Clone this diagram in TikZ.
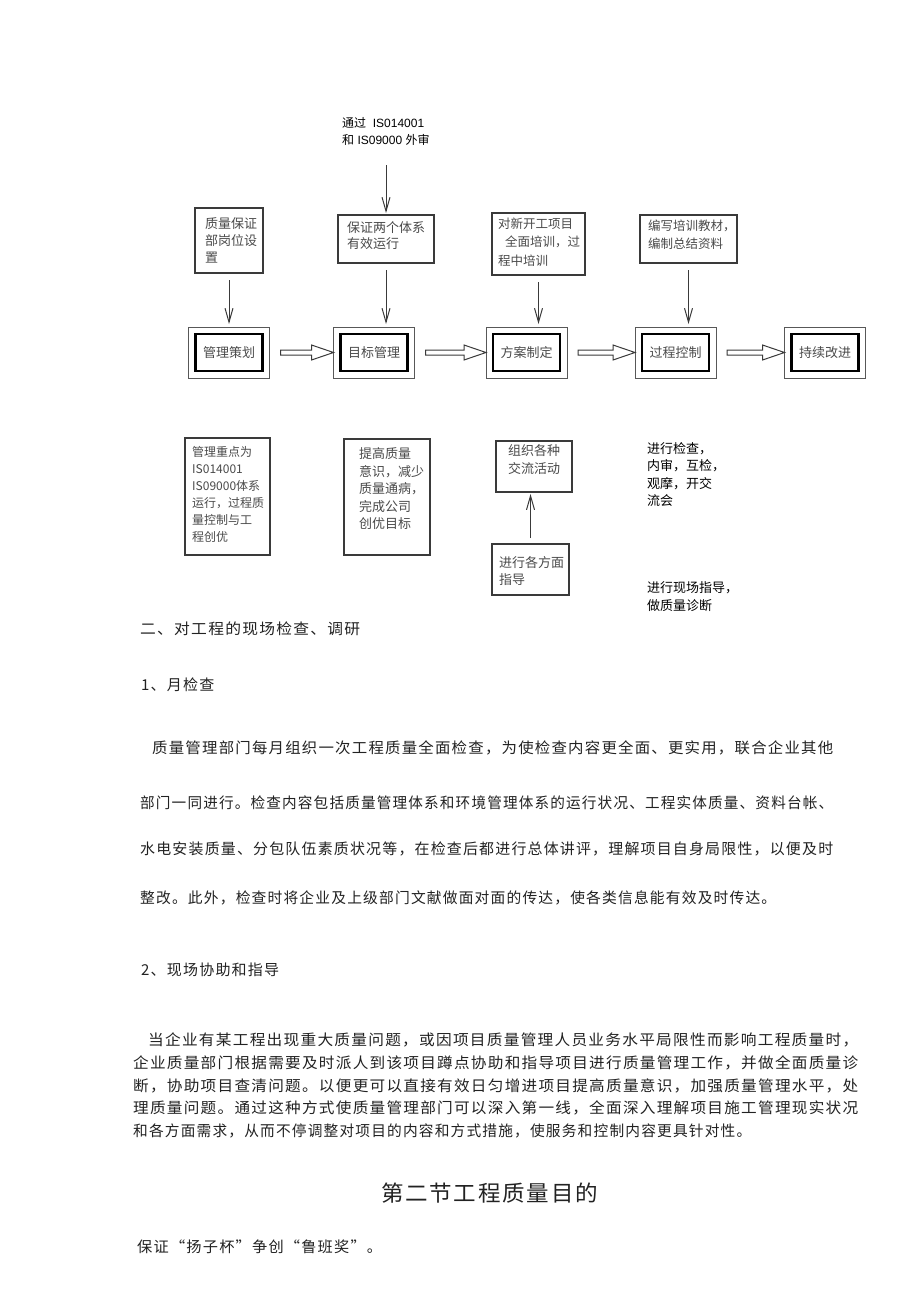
\documentclass[tikz,border=0pt]{standalone}
\usepackage{fontspec}
\usepackage{graphicx}
\setmainfont{Noto Sans CJK SC}
\newfontfamily\cjk{Noto Sans CJK SC}
\newfontfamily\cjkls[LetterSpace=8]{Noto Sans CJK SC}
\newfontfamily\latsans{Liberation Sans}
\usetikzlibrary{arrows.meta,calc}
\definecolor{boxline}{HTML}{3A3A3A}
\definecolor{boxtext}{HTML}{4A4A4A}
\definecolor{bodytext}{HTML}{222222}
\newcommand\fitw[2]{\resizebox{#1}{\height}{#2}}
\newcommand\harr[2]{\draw[harrow] ($(#1.east)+(11,-2.5)$) -- ($(#2.west)+(-22,-2.5)$) -- ($(#2.west)+(-22,-7.5)$) -- (#2.west) -- ($(#2.west)+(-22,7.5)$) -- ($(#2.west)+(-22,2.5)$) -- ($(#1.east)+(11,2.5)$) -- cycle;}
\newcommand\innerbox[1]{\draw[inbox] ($(#1.north west)+(7,7)$) rectangle ($(#1.south east)+(-7,-7)$);}
\tikzset{
  box/.style={draw=boxline, line width=1.1pt, inner sep=0pt, outer sep=0pt},
  mainbox/.style={draw=boxline!85, line width=1pt, minimum width=81pt, minimum height=51pt, inner sep=0pt, outer sep=0pt, font=\cjk\fontsize{13}{15}\selectfont, text=boxtext},
  inbox/.style={draw=black, line width=2.8pt},
  btext/.style={inner sep=0pt, anchor=north west, align=left, text=boxtext, font=\cjk\fontsize{13}{17}\selectfont},
  varrow/.style={draw=boxline, line width=1pt, -{Straight Barb[length=14pt,width=8pt]}},
  harrow/.style={draw=boxline, line width=1pt, fill=white, line join=miter},
  body/.style={inner sep=0pt, anchor=west, text=bodytext, font=\cjkls\fontsize{15}{17}\selectfont},
}
\begin{document}
\begin{tikzpicture}[x=1pt,y=-1pt]
\useasboundingbox (0,0) rectangle (920,1301);
\fill[white] (0,0) rectangle (920,1301);

% top label
\node[inner sep=0pt, anchor=north west, align=left, font=\latsans\fontsize{12}{17}\selectfont, text=black] (lbl) at (342,117) {{\cjk 通过}\ \ IS014001\\{\cjk 和} IS09000 {\cjk 外审}};

% top boxes
\node[box, minimum width=68pt, minimum height=65pt] (t1) at (229,240.5) {};
\node[box, minimum width=96pt, minimum height=48pt] (t2) at (386,239) {};
\node[box, minimum width=93pt, minimum height=62pt] (t3) at (538.5,244) {};
\node[box, minimum width=97pt, minimum height=48pt] (t4) at (688.5,239) {};
\node[btext] (t1x) at (205,217.4) {质量保证\\部岗位设\\置};
\node[btext, font=\cjk\fontsize{13}{16}\selectfont] (t2x) at (347,221.4) {保证两个体系\\有效运行};
\node[btext, font=\cjk\fontsize{12.5}{18.5}\selectfont] (t3x) at (498,217.4) {对新开工项目\\\hspace{7pt}全面培训，过\\程中培训};
\node[btext, font=\cjk\fontsize{12.5}{18}\selectfont] (t4x) at (648,219.4) {编写培训教材，\\编制总结资料};

% main row
\node[mainbox] (m1) at (229,352.5) {管理策划};
\node[mainbox] (m2) at (374,352.5) {目标管理};
\node[mainbox] (m3) at (526.5,352.5) {方案制定};
\node[mainbox] (m4) at (675.5,352.5) {过程控制};
\node[mainbox] (m5) at (825,352.5) {持续改进};
\innerbox{m1}\innerbox{m2}\innerbox{m3}\innerbox{m4}\innerbox{m5}
\harr{m1}{m2}
\harr{m2}{m3}
\harr{m3}{m4}
\harr{m4}{m5}

% vertical arrows
\draw[varrow, shorten <=20pt, shorten >=2pt] (lbl.south -| t2.north) -- (t2.north);
\draw[varrow, shorten <=7pt, shorten >=3pt] (t1.south) -- (t1.south |- m1.north);
\draw[varrow, shorten <=7pt, shorten >=3pt] (t2.south) -- (t2.south |- m2.north);
\draw[varrow, shorten <=7pt, shorten >=3pt] (t3.south) -- (t3.south |- m3.north);
\draw[varrow, shorten <=7pt, shorten >=3pt] (t4.south) -- (t4.south |- m4.north);

% bottom boxes
\node[box, minimum width=85pt, minimum height=117pt] (b1) at (227.5,496.5) {};
\node[box, minimum width=86pt, minimum height=116pt] (b2) at (387,497) {};
\node[box, minimum width=76pt, minimum height=51pt] (b3) at (534,466.5) {};
\node[box, minimum width=77pt, minimum height=51pt] (b4) at (530.5,569.5) {};
\node[btext, font=\cjk\fontsize{12}{17}\selectfont] (b1x) at (192,446.4) {管理重点为\\IS014001\\IS09000体系\\运行，过程质\\量控制与工\\程创优};
\node[btext, font=\cjk\fontsize{13}{17.5}\selectfont] (b2x) at (359,447.4) {提高质量\\意识，减少\\质量通病，\\完成公司\\创优目标};
\node[btext, font=\cjk\fontsize{13}{18}\selectfont] (b3x) at (508,444.4) {组织各种\\交流活动};
\node[btext] (b4x) at (499,556.4) {进行各方面\\指导};
\draw[varrow, shorten <=6pt, shorten >=2pt] (b4.north) -- (b4.north |- b3.south);
\node[btext, text=black, font=\cjk\fontsize{13}{17.3}\selectfont] (f1) at (647,442.4) {进行检查，\\内审，互检，\\观摩，开交\\流会};
\node[btext, text=black, font=\cjk\fontsize{13}{18}\selectfont] (f2) at (647,581.4) {进行现场指导，\\做质量诊断};

% body text
\node[body] (s1) at (140,629) {\fitw{220pt}{二、对工程的现场检查、调研}};
\node[body] (s2) at (141,685) {1、月检查};
\node[body] (p1a) at (152,748) {\fitw{681pt}{质量管理部门每月组织一次工程质量全面检查，为使检查内容更全面、更实用，联合企业其他}};
\node[body] (p1b) at (140,803) {\fitw{693pt}{部门一同进行。检查内容包括质量管理体系和环境管理体系的运行状况、工程实体质量、资料台帐、}};
\node[body] (p1c) at (140,849) {\fitw{693pt}{水电安装质量、分包队伍素质状况等，在检查后都进行总体讲评，理解项目自身局限性，以便及时}};
\node[body] (p1d) at (140,898) {\fitw{636pt}{整改。此外，检查时将企业及上级部门文献做面对面的传达，使各类信息能有效及时传达。}};
\node[body] (s3) at (141,970) {2、现场协助和指导};
\node[body] (p2a) at (148,1040) {\fitw{710pt}{当企业有某工程出现重大质量问题，或因项目质量管理人员业务水平局限性而影响工程质量时，}};
\node[body] (p2b) at (133,1063) {\fitw{725pt}{企业质量部门根据需要及时派人到该项目蹲点协助和指导项目进行质量管理工作，并做全面质量诊}};
\node[body] (p2c) at (133,1086) {\fitw{725pt}{断，协助项目查清问题。以便更可以直接有效日匀增进项目提高质量意识，加强质量管理水平，处}};
\node[body] (p2d) at (133,1108) {\fitw{725pt}{理质量问题。通过这种方式使质量管理部门可以深入第一线，全面深入理解项目施工管理现实状况}};
\node[body] (p2e) at (133,1131) {\fitw{618pt}{和各方面需求，从而不停调整对项目的内容和方式措施，使服务和控制内容更具针对性。}};
\node[body, anchor=center, font=\cjkls\fontsize{22}{26}\selectfont] (h2) at (489.5,1193) {\fitw{217pt}{第二节工程质量目的}};
\node[body] (s4) at (137,1247) {\fitw{245pt}{保证“扬子杯”争创“鲁班奖”。}};
\end{tikzpicture}
\end{document}
